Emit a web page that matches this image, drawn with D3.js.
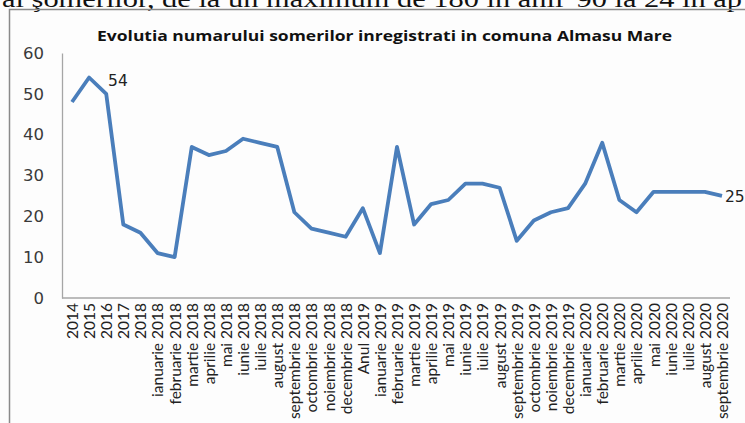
<!DOCTYPE html>
<html>
<head>
<meta charset="utf-8">
<script src="https://cdn.jsdelivr.net/npm/d3@7"></script>
<style>
  body { margin: 0; background: #fff; }
  svg { display: block; }
</style>
</head>
<body>
<div id="chart"></div>
<script>
// data
var categories = ["2014", "2015", "2016", "2017", "2018",
  "ianuarie 2018", "februarie 2018", "martie 2018", "aprilie 2018", "mai 2018", "iunie 2018",
  "iulie 2018", "august 2018", "septembrie 2018", "octombrie 2018", "noiembrie 2018", "decembrie 2018",
  "Anul 2019",
  "ianuarie 2019", "februarie 2019", "martie 2019", "aprilie 2019", "mai 2019", "iunie 2019",
  "iulie 2019", "august 2019", "septembrie 2019", "octombrie 2019", "noiembrie 2019", "decembrie 2019",
  "ianuarie 2020", "februarie 2020", "martie 2020", "aprilie 2020", "mai 2020", "iunie 2020",
  "iulie 2020", "august 2020", "septembrie 2020"];
var someri = [48, 54, 50, 18, 16,
  11, 10, 37, 35, 36, 39,
  38, 37, 21, 17, 16, 15,
  22,
  11, 37, 18, 23, 24, 28,
  28, 27, 14, 19, 21, 22,
  28, 38, 24, 21, 26, 26,
  26, 26, 25];
var yTicks = [0, 10, 20, 30, 40, 50, 60];
var labelled = [1, 38]; // points with a value label
var title = "Evolutia numarului somerilor inregistrati in comuna Almasu Mare";
var pageText = "al şomerilor, de la un maximum de 180 în anii '90 la 24 în ap";

var W = 745, H = 423;
var svg = d3.select("#chart").append("svg")
    .attr("width", W)
    .attr("height", H);

svg.append("rect").attr("width", W).attr("height", H).attr("fill", "#fdfdfd");

// line of the scanned page above the chart (cut off at the top, as in the scan)
svg.append("text")
    .text(pageText)
    .attr("x", 2)
    .attr("y", 7)
    .attr("textLength", 740)
    .attr("lengthAdjust", "spacingAndGlyphs")
    .attr("font-family", "Liberation Serif")
    .attr("font-size", 24)
    .attr("fill", "#111");

// chart frame
svg.append("path")
    .attr("d", "M9.5," + H + "V9.5H" + W)
    .attr("fill", "none")
    .attr("stroke", "#8a8a8a")
    .attr("stroke-width", 1.5);

var x = d3.scalePoint().domain(categories).range([72, 722]);
var y = d3.scaleLinear().domain([0, 60]).range([298, 53]);

// title
svg.append("text")
    .text(title)
    .attr("x", 97)
    .attr("y", 41)
    .attr("textLength", 575)
    .attr("lengthAdjust", "spacingAndGlyphs")
    .attr("font-family", "Open Sans")
    .attr("font-weight", "bold")
    .attr("font-size", 15)
    .attr("fill", "#111");

// y axis
var yAxis = svg.append("g")
    .attr("transform", "translate(62,0)")
    .call(d3.axisLeft(y).tickValues(yTicks).tickSize(0).tickPadding(18));
yAxis.select(".domain").attr("stroke", "#a6a6a6").attr("stroke-width", 1.3);
yAxis.selectAll("text")
    .attr("font-family", "DejaVu Sans")
    .attr("font-size", 16.5)
    .attr("fill", "#3a3a3a");

// x axis
var xAxis = svg.append("g")
    .attr("transform", "translate(0,298)")
    .call(d3.axisBottom(x).tickSize(0).tickPadding(0));
xAxis.select(".domain")
    .attr("d", "M62,0H730")
    .attr("stroke", "#a6a6a6")
    .attr("stroke-width", 1.3);
xAxis.selectAll("text")
    .attr("transform", "translate(0,5) rotate(-90)")
    .attr("x", 0)
    .attr("y", 0)
    .attr("dy", "0.35em")
    .attr("text-anchor", "end")
    .attr("font-family", "Lato")
    .attr("font-size", 15.5)
    .attr("fill", "#222");

// line
var line = d3.line()
    .x(function (d, i) { return x(categories[i]); })
    .y(function (d) { return y(d); });
svg.append("path")
    .datum(someri)
    .attr("d", line)
    .attr("fill", "none")
    .attr("stroke", "#4a7ebb")
    .attr("stroke-width", 3.8)
    .attr("stroke-linejoin", "round");

// value labels
svg.selectAll("text.val")
    .data(labelled)
    .enter().append("text")
    .attr("class", "val")
    .text(function (i) { return someri[i]; })
    .attr("x", function (i) { return x(categories[i]) + (i === 1 ? 19 : 3); })
    .attr("y", function (i) { return y(someri[i]) + (i === 1 ? 8 : 6); })
    .attr("font-family", "DejaVu Sans")
    .attr("font-size", 15.5)
    .attr("fill", "#222");
</script>
</body>
</html>
